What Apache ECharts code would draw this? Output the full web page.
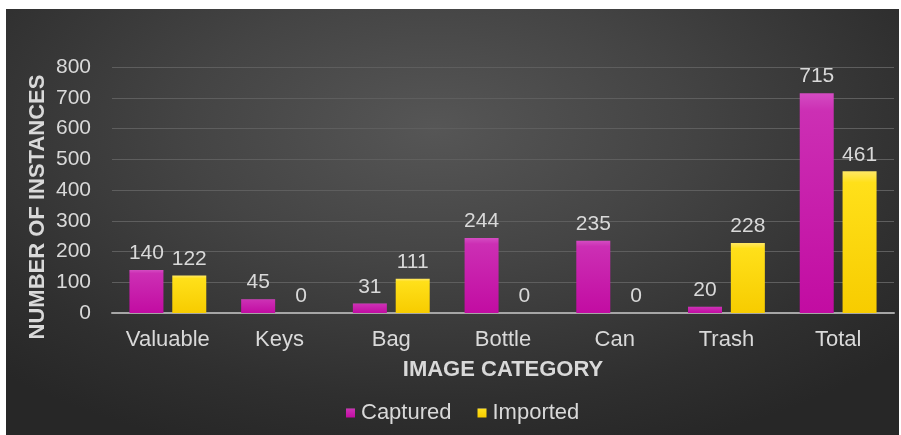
<!DOCTYPE html>
<html>
<head>
<meta charset="utf-8">
<script src="https://cdn.jsdelivr.net/npm/echarts@6/dist/echarts.min.js"></script>
<style>
  html, body { margin: 0; padding: 0; background: #ffffff; }
  #wrap { position: relative; width: 901px; height: 435px; overflow: hidden; }
  #panel {
    position: absolute; left: 6px; top: 9px; width: 893px; height: 426px;
    background: radial-gradient(ellipse 70% 80% at 48% 28%, #565656 0%, #444444 40%, #2f2f2f 80%, #272727 100%);
  }
  #chart { position: absolute; left: 0; top: 0; width: 901px; height: 435px; }
</style>
</head>
<body>
<div id="wrap">
  <div id="panel"></div>
  <div id="chart"></div>
</div>
<script>
// Image categories and instance counts per source
const categories = ['Valuable', 'Keys', 'Bag', 'Bottle', 'Can', 'Trash', 'Total'];
const captured = [140, 45, 31, 244, 235, 20, 715];
const imported = [122, 0, 111, 0, 0, 228, 461];
const yTicks = [0, 100, 200, 300, 400, 500, 600, 700, 800];

const FONT = '"Liberation Sans", Arial, sans-serif';
const TEXT = '#d9d9d9';

const chart = echarts.init(document.getElementById('chart'), null, { renderer: 'canvas' });

const labelStyle = {
  show: true, position: 'top', distance: 6,
  color: TEXT, fontSize: 21, fontFamily: FONT
};

chart.setOption({
  backgroundColor: 'transparent',
  animation: false,
  grid: { left: 112, right: 7, top: 67, bottom: 122 },
  legend: {
    bottom: 6, left: 341,
    itemWidth: 9, itemHeight: 9, itemGap: 26,
    icon: 'rect',
    textStyle: { color: TEXT, fontSize: 22, fontFamily: FONT, padding: [0, 0, 0, 1] },
    data: ['Captured', 'Imported']
  },
  graphic: [{
    type: 'text',
    x: 38, y: 207,
    rotation: Math.PI / 2,
    style: {
      text: 'NUMBER OF INSTANCES',
      fill: TEXT, fontSize: 22, fontWeight: 'bold', fontFamily: FONT,
      align: 'center', verticalAlign: 'middle'
    }
  }],
  xAxis: {
    type: 'category',
    data: categories,
    name: 'IMAGE CATEGORY',
    nameLocation: 'middle',
    nameGap: 46,
    nameTextStyle: { color: TEXT, fontSize: 22, fontWeight: 'bold', fontFamily: FONT, verticalAlign: 'top' },
    axisLine: { lineStyle: { color: '#a6a6a6', width: 2 } },
    axisTick: { show: false },
    axisLabel: { color: TEXT, fontSize: 22, fontFamily: FONT, margin: 16 }
  },
  yAxis: {
    type: 'value',
    min: yTicks[0], max: yTicks[yTicks.length - 1], interval: 100,
    axisLine: { show: false },
    axisTick: { show: false },
    axisLabel: { color: TEXT, fontSize: 21, fontFamily: FONT, margin: 21 },
    splitLine: { lineStyle: { color: '#5e5e5e', width: 1 } }
  },
  series: [
    {
      name: 'Captured', type: 'bar', data: captured,
      barWidth: 34, barGap: '26%',
      itemStyle: {
        color: new echarts.graphic.LinearGradient(0, 0, 0, 1, [
          { offset: 0, color: '#d44cc2' },
          { offset: 0.08, color: '#cc2fb4' },
          { offset: 1, color: '#c20ca2' }
        ])
      },
      label: labelStyle
    },
    {
      name: 'Imported', type: 'bar', data: imported,
      barWidth: 34,
      itemStyle: {
        color: new echarts.graphic.LinearGradient(0, 0, 0, 1, [
          { offset: 0, color: '#ffe866' },
          { offset: 0.08, color: '#ffe01a' },
          { offset: 1, color: '#f7cc00' }
        ])
      },
      label: labelStyle
    }
  ]
});
</script>
</body>
</html>
